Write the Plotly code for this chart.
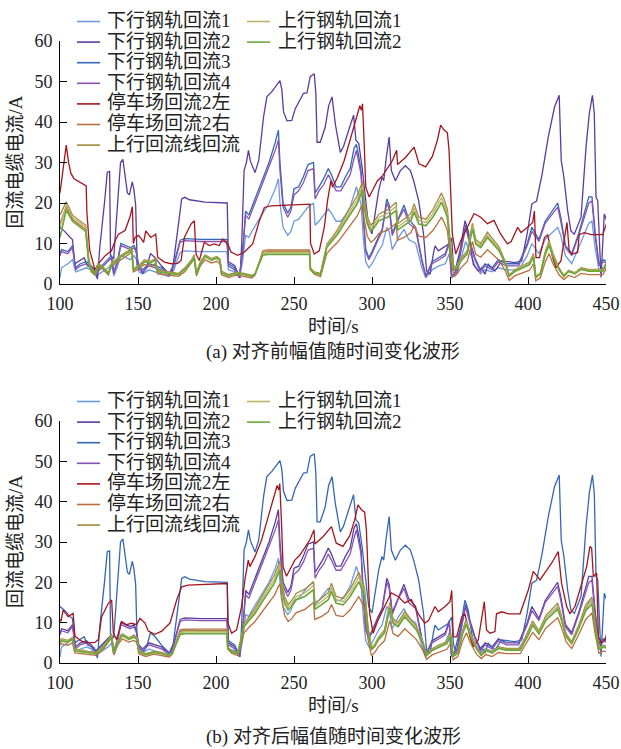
import plotly.graph_objects as go

W, H = 621, 749
ALIGN_OFFSET_S = 53  # time offset of the parking/up-line channels before alignment

# ---------------- data (aligned time frame, seconds) ----------------
T_DN = [100, 101, 105, 108, 110, 113, 117, 120, 123, 127, 131, 133, 134.5, 137, 139, 142, 145, 147.5, 149, 150.5,
        153, 157, 161, 165, 170, 173, 177, 180, 190, 200, 207, 208, 212, 215, 217, 219, 221, 223, 226, 230,
        234, 238, 240, 241, 243, 246, 248, 250, 253, 256, 259, 262.5, 263.5, 266, 269, 272, 274, 277, 280, 283,
        286, 288.5, 290, 291.5, 293, 294.5, 296, 298, 300, 304, 306.5, 309.5, 311, 313, 317, 320.5, 323.5, 328, 332, 334.5,
        338.5, 343, 347, 349.5, 351, 354.5, 357.5, 360, 362, 366, 369.5, 372.5, 377, 381, 386, 394, 399.5, 402.5, 407, 411,
        419, 421, 424, 428, 432.5, 437, 439, 441, 443, 445.5, 448.5, 451]
DOWN3 = [7.5, 8.5, 8, 9.5, 4, 5, 5.5, 4.5, 3, 4.5, 6, 7, 3, 6, 10, 9.5, 9, 9.5, 8, 4.5,
         3.5, 5, 4.5, 4, 2.5, 5, 10.8, 11.2, 11, 11, 11, 5, 4, 2, 8, 18, 17, 19, 22, 26,
         30, 35, 38, 30, 20, 17.5, 19, 23.5, 24, 26.5, 29.5, 30, 22.5, 24, 26, 28.5, 27, 24, 24, 26.5,
         28.5, 33.5, 34.5, 31.5, 28, 17, 8.5, 6.5, 8, 11.5, 13.5, 21, 19.5, 12.5, 16.5, 19.5, 16, 14, 6, 2,
         5.5, 6.5, 7.5, 10.5, 2, 3.5, 10, 14.5, 11.5, 6.5, 3.5, 5, 4, 6, 5, 5, 10, 14, 11, 15.5,
         20, 16.5, 9.5, 7.5, 12.5, 19, 21.5, 21.5, 13, 5, 6, 5.5]
DOWN4 = [7, 8, 7.5, 9, 3.5, 4.5, 5, 4, 2.5, 4, 5.5, 6.5, 2.5, 5.5, 9.5, 9, 8.5, 9, 7.5, 4,
         3, 4.5, 4, 3.5, 2.2, 4.5, 10.3, 10.7, 10.5, 10.5, 10.5, 4.5, 3.5, 1.8, 7.5, 17, 16, 18, 21, 25,
         28.5, 33, 35.5, 28, 19, 16.5, 18, 22, 23, 25, 28, 28.5, 21, 23, 24.5, 27, 25.5, 23, 23, 25,
         27, 31, 33, 30, 27, 16, 8, 6, 7.5, 11, 13, 20, 18.5, 12, 16, 18.5, 15, 13.5, 5.5, 1.8,
         5, 6, 7, 10, 1.8, 3, 9.5, 14, 11, 6, 3, 4.5, 3.5, 5.5, 4.5, 4.5, 9.5, 13, 10.5, 15,
         19, 15.5, 9, 7, 12, 18, 20, 20.5, 12, 4.5, 5.5, 5]
DOWN1 = [1.5, 4, 5, 6, 3, 3.5, 4, 3.5, 2, 3, 4, 5, 2, 4.5, 7, 6.5, 6, 7, 6, 3,
         2.5, 3.5, 3, 2.5, 1.8, 3.5, 7.8, 8.2, 8, 8, 8, 3.5, 3, 1.5, 5.5, 12, 11.5, 13, 15, 17.5,
         20, 23.5, 26, 20, 14, 12, 13, 15.5, 16, 17.5, 19, 20, 14.5, 15.5, 17, 18.5, 17.5, 15.5, 15.5, 17,
         19, 22, 24, 22, 19.5, 11, 5.5, 4, 5, 8, 9.5, 14, 13, 8.5, 11.5, 13.5, 11, 10, 4, 1.5,
         3.5, 4.5, 5, 7.5, 1.5, 2.5, 7, 10.5, 8.5, 4.5, 2.5, 3.5, 3, 4, 3.5, 3.5, 7, 10, 7.5, 11,
         14, 12, 7, 5, 9, 13.5, 15, 15.5, 9, 3.5, 4, 3.5]

T_DN2 = [100, 103, 106.5, 108, 109.5, 111.7, 115.5, 117.5, 122, 124, 125.5, 128.5, 130.3, 131.8, 132.4, 134.4, 136.5,
         138.8, 140.3, 141.9, 143.2, 144.5, 146.3, 147.3, 148.5, 149.5, 153, 155.5, 158, 161, 165, 170, 172, 175, 178,
         180, 183, 193, 207.2, 208, 212, 215.4, 216.5, 218, 219.5, 220.8, 222, 225, 227.4, 230.5, 232.6, 235.8, 239,
         241, 242.2, 243.3, 245.5, 248.6, 250.8, 254, 256.1, 258.3, 260.4, 263, 264, 264.8, 266.8, 270, 272.2, 274.4,
         276.5, 279.7, 281.8, 285, 288.2, 289.7, 291.5, 293.6, 295.7, 297.9, 300, 302.1, 304.3, 306.4, 307.5, 309.2,
         311, 312.4, 315, 318.2, 321.4, 324.6, 326.7, 329.9, 333, 335, 337.2, 339.3, 340.4, 342.5, 345.7, 348.9, 351.1,
         352.1, 353.2, 356.4, 359.6, 361.7, 364.9, 368.1, 370.3, 372.4, 374.5, 378.8, 383.1, 391.6, 396, 399.5, 402.5,
         405.5, 409, 413, 417, 420, 421.3, 423, 425.4, 427.5, 429.7, 434, 437.2, 439.3, 441.3, 442.5, 443.6, 444.7,
         446.8, 448.9, 451]
DOWN2 = [14, 13, 11.5, 11, 5, 5.6, 6.5, 4.5, 3.7, 1.2, 9, 20, 27.6, 27.8, 7, 6.2, 16.6,
         30, 30.8, 26.5, 22.5, 22, 25.2, 23.5, 19.5, 4.5, 2.7, 4, 7.5, 6.5, 4.5, 2.5, 3, 12, 21,
         21.4, 20.8, 20.2, 20, 5.5, 4.5, 1.5, 10, 28, 30, 33, 30.4, 27.5, 30.5, 41.3, 46.2, 47.5, 49.2,
         50.2, 48, 42.5, 40.3, 40.4, 43.3, 45.4, 47.1, 47.2, 51.2, 51.9, 47, 35, 35, 38.7, 44, 46.2,
         39.5, 32.5, 34, 37.9, 41.7, 35.5, 34.7, 29, 22.3, 14, 12.4, 17.4, 23.1, 26.4, 25.5, 31.3,
         36.3, 28, 25.5, 28, 29.2, 28, 25.5, 20.6, 12.4, 3.2, 2.4, 7.4, 9.4, 8.2, 9, 9.8, 11.4,
         4.9, 3.2, 8.2, 15.6, 13.1, 4.9, 3.2, 4, 2.4, 4.9, 3.2, 5.7, 5.3, 5.7, 12.5, 19.8,
         20.5, 27, 36.3, 43.7, 46.6, 30.5, 26.4, 18.1, 13.1, 12.3, 16.5, 33.8, 42.1, 46.6, 42.1, 21.4, 20.6,
         1.6, 17.3, 15]

T_RED = [47, 49, 51, 52.5, 54, 56, 62, 63.8, 64.2, 66, 69.4, 71.5, 76, 80, 82.3, 84.5, 88.7, 91.9, 93.4, 94,
         95.1, 97.3, 99.4, 100.6, 102, 105.2, 108.4, 109.6, 113.9, 118.2, 122.4, 124.6, 126.7, 131, 133.1, 134.2,
         136.3, 139.5, 142.7, 145.9, 149.1, 151.3, 154.5, 156.6, 160.9, 165.2, 170.5, 174.8, 178, 182.2, 207.2,
         207.6, 210, 213.2, 216.4, 218.5, 220.7, 221.7, 224.9, 229.2, 233.5, 237.7, 239.2, 240.2, 240.9, 242, 243,
         245.2, 248.4, 250.5, 253.7, 256.9, 260.1, 262.8, 263.4, 268.6, 274, 277.1, 281.4, 285.7, 288.9, 291, 293.2,
         295.3, 296.4, 298.5, 300.7, 303.9, 308.2, 312.4, 316.7, 321, 325.2, 329.5, 333.8, 336.2, 340.4, 342.5,
         346.8, 350, 351.1, 352.1, 354.3, 357.5, 359.6, 362.8, 364.9, 368.1, 372, 373.4, 375.6, 378.8, 379.8, 383.1,
         387.4, 394.9, 400.2, 403.4, 407.7, 410.9, 415.2, 419.4, 420.5, 421.5, 424.8, 426.9, 430.1, 434.4, 437.6,
         439.7, 440.8, 441.9, 444, 445.1, 447.2, 449.4, 451]
PARK_L = [22.5, 29, 34.3, 30, 27.3, 26, 24.7, 24.2, 18, 8.4, 3.5, 5, 7, 8.2, 10.7, 12.3, 13.2, 16.6, 19.1, 10,
          11.5, 12, 11, 10.3, 13.1, 11.5, 12.3, 6.6, 5.4, 5, 5.1, 5.8, 11.5, 14.8, 15.6, 7.4,
          5.8, 10.3, 9.5, 9.9, 9.5, 11.1, 9.9, 7.9, 7.1, 7.9, 9.9, 15.6, 18.9, 19.3, 19.7,
          10, 7.4, 8.2, 14, 20.6, 25.5, 23.9, 26.3, 30.5, 36.3, 42.1, 44, 42.9, 44.5, 34.7, 23.9,
          21.5, 23.9, 25.5, 26.7, 28.6, 30.5, 33, 29.5, 31.3, 33.8, 29.7, 28.9, 31.5, 35.5, 39.2, 38,
          37.4, 33, 12.3, 7.4, 10.7, 14, 17.4, 16.5, 14.9, 15.7, 12.3, 9.9, 10.5, 14, 12.7,
          14, 15.2, 18, 6.5, 6.5, 11.4, 12.2, 6.5, 4, 5.7, 15.2, 8.2, 7.4, 7.8, 12.2, 12.7,
          12.2, 12.2, 18.1, 22.7, 20.6, 22.3, 24.8, 27.6, 23, 19.8, 14, 12.2, 14, 19.8, 23.9,
          28.9, 28.5, 21.4, 22.3, 6.5, 4.9, 5.7, 8.2]

T_UP = [47, 51, 55, 62, 63.5, 65.5, 67, 69.5, 71.5, 74, 78, 80, 86.5, 91.5, 93, 94, 97, 100, 101, 105,
        108, 109.5, 113, 118, 123, 127, 131, 133, 134.5, 137, 140, 144, 147.5, 149.5, 150.5, 155, 160, 165, 170, 172,
        177, 180, 207, 207.5, 210, 214, 216.5, 218, 221.5, 225, 229, 233.5, 237.5, 240, 241, 242, 244, 246.3, 248.5,
        251.5, 257, 262.5, 263.3, 267.5, 272, 274, 277, 281.5, 286, 290, 291.5, 293.3, 295.3, 297.4, 299.6, 301.7, 304,
        308, 311.4, 313.5, 316.7, 321, 324, 328.5, 332.5, 335, 338.5, 343, 348, 350.5, 352, 355, 358, 360.5, 363, 367,
        370, 373, 377, 381, 386, 395, 400, 403, 407, 411.5, 419, 421, 424.5, 428, 432.5, 437, 441, 443, 445.5, 448.5, 451]
UP_RET = [17, 20.3, 17, 15, 14.5, 6, 4, 2.8, 5, 4.5, 2.8, 5.2, 7.2, 8.4, 9.2, 3.8, 4.5, 5.5, 6, 5.6,
          6.3, 3.5, 3.2, 2.9, 2.6, 4, 5.8, 7.2, 2.8, 5.5, 7.2, 6.3, 6.8, 6.2, 3.2, 2.3, 2.9, 2.6, 2.1, 2.6,
          7.8, 8, 8, 4, 3, 2.6, 7, 9.8, 11.6, 13.5, 16.2, 19, 21.8, 24.3, 25.3, 21, 16.5, 14.5, 15.5,
          17.3, 18.3, 20.2, 14.8, 16, 17.5, 19.8, 16.5, 16, 18.3, 21.3, 22.5, 20.8, 18.5, 9.2, 3.8, 4.6, 6.3,
          8.2, 15, 11, 10, 12.8, 11.3, 9.1, 5.5, 2.2, 3.5, 4.5, 5.4, 7.5, 1.8, 2.8, 8, 10.6, 7.6, 3.9,
          2.1, 3.4, 2.8, 4, 3.6, 3.6, 7.6, 10.4, 8, 11.8, 14.8, 12.4, 7.2, 5.3, 9.4, 14.4, 16.3, 10, 3.8, 4.4, 4]
UP_RAIL1 = [14, 19.5, 16.5, 14.5, 14, 5.5, 3.5, 2.6, 4.8, 4.3, 2.6, 5, 7, 8.2, 9, 3.6, 4.3, 5.2, 5.8, 5.4,
            6.1, 3.3, 3, 2.7, 2.4, 3.8, 5.5, 6.8, 2.6, 5.3, 7, 6.1, 6.6, 6, 3, 2.1, 2.7, 2.4, 2, 2.5,
            7.5, 7.7, 7.7, 3.8, 2.8, 2.4, 6.7, 9.4, 11.1, 12.9, 15.5, 18.2, 20.8, 23.3, 24.2, 20, 15.7, 13.8, 14.8,
            16.5, 17.4, 19.2, 14, 15.2, 16.6, 18.8, 15.7, 15.2, 17.4, 20.2, 21.3, 19.7, 17.5, 8.7, 3.6, 4.4, 6,
            7.8, 14.3, 10.4, 9.5, 12.1, 10.8, 8.6, 5.2, 2, 3.3, 4.3, 5.1, 7.1, 1.7, 2.6, 7.6, 10.1, 7.2, 3.7,
            2, 3.2, 2.7, 3.8, 3.4, 3.4, 7.2, 9.9, 7.6, 11.2, 14, 11.8, 6.8, 5, 8.9, 13.7, 15.5, 9.5, 3.6, 4.2, 3.8]
UP_RAIL2 = [11.5, 18.3, 15.5, 13.5, 13, 5, 3.5, 2.5, 4.6, 4.2, 2.5, 4.8, 6.8, 8, 8.8, 3.4, 4.1, 5, 5.5, 5.2,
            5.9, 3.1, 2.8, 2.6, 2.3, 3.6, 5.3, 6.5, 2.4, 5.1, 6.8, 5.9, 6.4, 5.8, 2.8, 2, 2.6, 2.3, 1.9, 2.4,
            7.1, 7.3, 7.3, 3.6, 2.7, 2.3, 6.5, 9, 10.7, 12.3, 14.8, 17.3, 19.8, 22.3, 23.1, 19, 14.8, 13.1, 14,
            15.7, 16.5, 18.2, 13.3, 14.4, 15.7, 17.8, 14.8, 14.4, 16.5, 19.1, 20.2, 18.6, 16.5, 8.2, 3.3, 4.1, 5.7,
            7.4, 13.6, 9.9, 9, 11.5, 10.2, 8.2, 4.9, 1.9, 3.1, 4, 4.8, 6.7, 1.6, 2.5, 7.2, 9.6, 6.8, 3.5,
            1.9, 3.1, 2.5, 3.6, 3.2, 3.2, 6.8, 9.4, 7.2, 10.6, 13.3, 11.2, 6.5, 4.8, 8.5, 13, 14.7, 9, 3.4, 4, 3.6]
PARK_R = [15, 19, 16, 14, 13.5, 5, 3, 2.2, 4, 3.8, 2.2, 4.4, 6.2, 7.4, 8.2, 3, 3.6, 4.4, 4.8, 4.4,
          5, 2.5, 2.3, 2.1, 1.9, 3, 5, 6.2, 2, 4.5, 6, 5.2, 5.6, 5, 2.3, 1.6, 2.2, 1.9, 1.5, 2.2,
          8.2, 8.4, 8.4, 3.5, 2.4, 1.8, 5.5, 7.5, 9, 10.3, 12.4, 14.6, 16.8, 19, 19.6, 16, 11.8, 10.3, 11,
          12.5, 13.3, 15, 10.8, 11.5, 12.7, 14.5, 11.8, 11.5, 13.2, 15.5, 16.5, 15.2, 13.3, 6, 1.8, 2.6, 4,
          5.5, 10.5, 7.3, 6.6, 8.5, 7.5, 5.8, 3.2, 0.9, 2, 2.7, 3.4, 5, 0.8, 1.6, 5.4, 7.5, 5, 2.2,
          1.1, 2.1, 1.6, 2.6, 2.3, 2.3, 5.4, 7.6, 5.8, 8.7, 11.2, 9.3, 5.2, 3.6, 7, 10.8, 12.4, 7.3, 2.4, 3, 2.7]

NAMES = ["下行钢轨回流1", "下行钢轨回流2", "下行钢轨回流3", "下行钢轨回流4", "停车场回流2左",
         "停车场回流2右", "上行回流线回流", "上行钢轨回流1", "上行钢轨回流2"]
X_TICKS = [100, 150, 200, 250, 300, 350, 400, 450]
Y_TICKS = [0, 10, 20, 30, 40, 50, 60]

# ---------------- styling ----------------
C = {
    "d1": "#6b9be0", "d2": "#5a3c9e", "d3": "#3566b6", "d4": "#8852b4",
    "pl": "#a3161d", "pr": "#bb6e3e", "ur": "#a38a3e", "u1": "#bab465", "u2": "#6fa63a",
}
FONT = "'Liberation Serif', 'Times New Roman', 'Noto Sans CJK SC', serif"
X0, X1 = 60, 606
PANELS = [  # (axis suffix, y px of 60, y px of 0)
    ("", 41, 284),
    ("2", 421, 663),
]

fig = go.Figure()

def add(x, y, color, name, ax, width=1.3):
    fig.add_trace(go.Scatter(x=x, y=y, mode="lines", name=name, showlegend=False,
                             line=dict(color=color, width=width),
                             xaxis="x" + ax, yaxis="y" + ax))

shifted = lambda ts: [t + ALIGN_OFFSET_S for t in ts]

# panel (a): before alignment
add(T_DN, DOWN1, C["d1"], NAMES[0], "")
add(T_DN2, DOWN2, C["d2"], NAMES[1], "")
add(T_DN, DOWN3, C["d3"], NAMES[2], "")
add(T_DN, DOWN4, C["d4"], NAMES[3], "")
add(shifted(T_RED), PARK_L, C["pl"], NAMES[4], "")
add(shifted(T_UP), PARK_R, C["pr"], NAMES[5], "")
add(shifted(T_UP), UP_RET, C["ur"], NAMES[6], "")
add(shifted(T_UP), UP_RAIL1, C["u1"], NAMES[7], "")
add(shifted(T_UP), UP_RAIL2, C["u2"], NAMES[8], "", 1.7)

# panel (b): after alignment
add(T_DN, DOWN1, C["d1"], NAMES[0], "2")
add(T_DN, DOWN3, C["d2"], NAMES[1], "2")
add(T_DN2, DOWN2, C["d3"], NAMES[2], "2")
add(T_DN, DOWN4, C["d4"], NAMES[3], "2")
add(T_RED, PARK_L, C["pl"], NAMES[4], "2")
add(T_UP, PARK_R, C["pr"], NAMES[5], "2")
add(T_UP, UP_RET, C["ur"], NAMES[6], "2")
add(T_UP, UP_RAIL1, C["u1"], NAMES[7], "2")
add(T_UP, UP_RAIL2, C["u2"], NAMES[8], "2", 1.7)

px = lambda v: v / W
py = lambda v: 1 - v / H

axis_common = dict(showline=True, linecolor="black", linewidth=1, ticks="inside", ticklen=7,
                   tickwidth=1, tickcolor="black", showgrid=False, zeroline=False, automargin=False,
                   tickfont=dict(family=FONT, size=18, color="#222"))
layout = dict(width=W, height=H, margin=dict(l=0, r=0, t=0, b=0, autoexpand=False),
              paper_bgcolor="white", plot_bgcolor="white", showlegend=False)

annotations, shapes = [], []
LEG_COL = ["d1", "d2", "d3", "d4", "pl", "pr", "ur"]
for ax, ytop, ybot in PANELS:
    layout["xaxis" + ax] = dict(axis_common, range=[100, 450], tickvals=X_TICKS, ticklabelstandoff=3,
                               domain=[px(X0), px(X1)], anchor="y" + ax)
    layout["yaxis" + ax] = dict(axis_common, range=[0, 60], tickvals=Y_TICKS, ticklabelstandoff=3,
                               domain=[py(ybot), py(ytop)], anchor="x" + ax)
    # legend drawn as text + line samples
    base = ytop - 20.5
    cols = [(77, 100, 105, [(NAMES[i], C[k]) for i, k in enumerate(LEG_COL)]),
            (247, 270, 276, [(NAMES[7], C["u1"]), (NAMES[8], C["u2"])])]
    for xa, xb, xt, entries in cols:
        for r, (nm, col) in enumerate(entries):
            yy = base + r * 20.6
            shapes.append(dict(type="line", xref="paper", yref="paper", x0=px(xa), x1=px(xb),
                               y0=py(yy + 1), y1=py(yy + 1), line=dict(color=col, width=1.6)))
            annotations.append(dict(text=nm, xref="paper", yref="paper", x=px(xt), y=py(yy),
                                    xanchor="left", yanchor="middle", showarrow=False,
                                    font=dict(family=FONT, size=19, color="#222")))
    annotations.append(dict(text="时间/s", xref="paper", yref="paper", x=px(333), y=py(ybot + 42),
                            xanchor="center", yanchor="middle", showarrow=False,
                            font=dict(family=FONT, size=19, color="#222")))
    annotations.append(dict(text="回流电缆电流/A", xref="paper", yref="paper", x=px(15),
                            y=py((ytop + ybot) / 2), textangle=-90, xanchor="center",
                            yanchor="middle", showarrow=False,
                            font=dict(family=FONT, size=19, color="#222")))

annotations.append(dict(text="(a) 对齐前幅值随时间变化波形", xref="paper", yref="paper", x=px(333), y=py(352),
                        xanchor="center", yanchor="middle", showarrow=False,
                        font=dict(family=FONT, size=19, color="#222")))
annotations.append(dict(text="(b) 对齐后幅值随时间变化波形", xref="paper", yref="paper", x=px(333), y=py(737),
                        xanchor="center", yanchor="middle", showarrow=False,
                        font=dict(family=FONT, size=19, color="#222")))
layout["annotations"] = annotations
layout["shapes"] = shapes
fig.update_layout(**layout)
# remove the default 8px page margin so the figure fills the 621x749 window exactly
fig.write_html("out.html", config={"displayModeBar": False, "staticPlot": True},
               post_script="document.body.style.margin='0';document.body.style.overflow='hidden';")
